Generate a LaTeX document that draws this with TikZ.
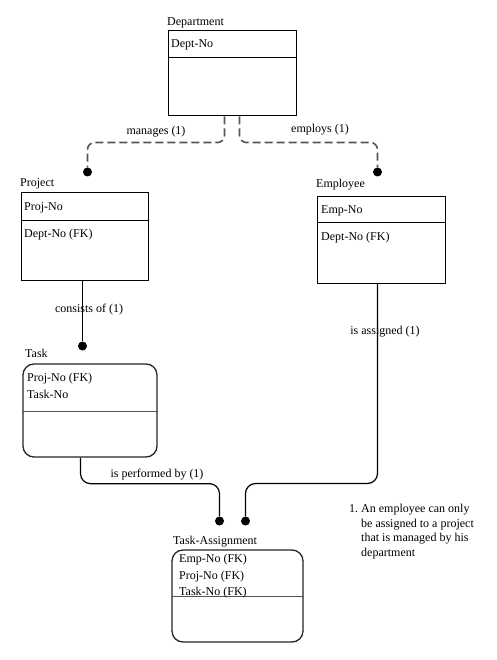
\documentclass[tikz,border=0pt]{standalone}
\usepackage{fontspec}
\setmainfont{Liberation Serif}
\usetikzlibrary{positioning, calc}
\definecolor{linegray}{HTML}{555555}
\tikzset{
  entbox/.style={draw=black, line width=1pt, inner sep=0pt},
  weakbox/.style={draw=black!85, line width=1.3pt, rounded corners=11pt, inner sep=0pt},
  divider/.style={line width=1pt},
  graydivider/.style={draw=linegray, line width=1.4pt},
  title/.style={font=\fontsize{12}{14}\selectfont, anchor=base west, inner sep=0pt},
  attr/.style={font=\fontsize{12}{14}\selectfont, anchor=base west, inner sep=0pt},
  rellabel/.style={font=\fontsize{12}{14}\selectfont, anchor=base, inner sep=0pt},
  dashlink/.style={draw=linegray, line width=1.6pt, dash pattern=on 8pt off 4pt, rounded corners=7pt},
  link/.style={draw=black, line width=1.2pt, rounded corners=10pt},
  enddot/.style={circle, fill=black, minimum size=9pt, inner sep=0pt},
}

\begin{document}
\begin{tikzpicture}[x=1pt, y=-1pt]
  \fill[white] (0,0) rectangle (496,660);
  \useasboundingbox (0,0) rectangle (496,660);

  % Department
  \node[entbox, minimum width=128pt, minimum height=85pt] (dept) at (232.5,73.5) {};
  \node[title] (depttitle) at (167,26) {Department};
  \draw[divider] ([yshift=-27pt]dept.north west) -- ([yshift=-27pt]dept.north east);
  \node[attr] (deptno) at (171,48) {Dept-No};

  % Project
  \node[entbox, minimum width=127pt, minimum height=87pt] (proj) at (84.5,236.5) {};
  \node[title] (projtitle) at (20,186) {Project};
  \draw[divider] ([yshift=-28pt]proj.north west) -- ([yshift=-28pt]proj.north east);
  \node[attr] (projno) at (24,211) {Proj-No};
  \node[attr] (projdept) at (24,237) {Dept-No (FK)};

  % Employee
  \node[entbox, minimum width=128pt, minimum height=86pt] (emp) at (381,240) {};
  \node[title] (emptitle) at (316,188) {Employee};
  \draw[divider] ([yshift=-26pt]emp.north west) -- ([yshift=-26pt]emp.north east);
  \node[attr] (empno) at (321,214) {Emp-No};
  \node[attr] (empdept) at (321,240) {Dept-No (FK)};

  % Task
  \node[weakbox, minimum width=134pt, minimum height=93pt] (task) at (90,410.5) {};
  \node[title] (tasktitle) at (25,357) {Task};
  \draw[graydivider] ([yshift=-48pt]task.north west) -- ([yshift=-48pt]task.north east);
  \node[attr] (taskproj) at (27,381) {Proj-No (FK)};
  \node[attr] (taskno) at (27,398) {Task-No};

  % Task-Assignment
  \node[weakbox, minimum width=131pt, minimum height=92pt] (ta) at (237.5,596) {};
  \node[title] (tatitle) at (173,544) {Task-Assignment};
  \draw[graydivider] ([yshift=-47pt]ta.north west) -- ([yshift=-47pt]ta.north east);
  \node[attr] (taemp) at (179,562) {Emp-No (FK)};
  \node[attr] (taproj) at (179,579) {Proj-No (FK)};
  \node[attr] (tatask) at (179,595) {Task-No (FK)};

  % End dots
  \node[enddot] (dotproj) at (87.5,172) {};
  \node[enddot] (dotemp) at (377.5,172) {};
  \node[enddot] (dottask) at (82.5,346) {};
  \node[enddot] (dottaA) at (219.5,521) {};
  \node[enddot] (dottaB) at (245.5,521) {};

  % Relationships
  \draw[dashlink] ([xshift=-8pt]dept.south) -- ++(0,26) -| (dotproj);
  \draw[dashlink] ([xshift=7pt]dept.south) -- ++(0,26) -| (dotemp);
  \draw[link] ([xshift=-2pt]proj.south) -- (dottask);
  \draw[link] ([xshift=-9.5pt]task.south) -- ++(0,26) -| (dottaA);
  \draw[link] ([xshift=-3.5pt]emp.south) -- ++(0,200) -| (dottaB);

  \node[rellabel] (manages) at (156,135) {manages (1)};
  \node[rellabel] (employs) at (320,133) {employs (1)};
  \node[rellabel] (consists) at (89,312) {consists of (1)};
  \node[rellabel] (assigned) at (385,334) {is assigned (1)};
  \node[rellabel] (performed) at (157,477) {is performed by (1)};

  % Note
  \node[attr] (notenum) at (349,512) {1.};
  \node[attr] (note1) at (361,512) {An employee can only};
  \node[attr] (note2) at (361,527) {be assigned to a project};
  \node[attr] (note3) at (361,541) {that is managed by his};
  \node[attr] (note4) at (361,556) {department};
\end{tikzpicture}
\end{document}
